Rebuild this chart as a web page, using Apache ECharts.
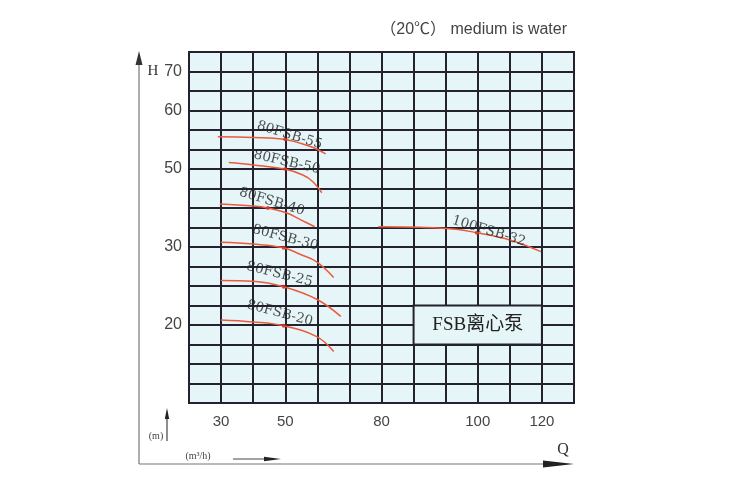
<!DOCTYPE html>
<html>
<head>
<meta charset="utf-8">
<script src="https://cdn.jsdelivr.net/npm/echarts@6/dist/echarts.min.js"></script>
<style>
html,body{margin:0;padding:0;background:#fff;}
#chart{width:750px;height:500px;}
</style>
</head>
<body>
<div id="chart"></div>
<script>
// ---- Axis tick definitions (printed chart uses a non-uniform scale) ----
const xTickPos = [1, 3, 6, 9, 11];
const xTickLabels = [30, 50, 80, 100, 120];
const yTickPos = [4, 8, 12, 15, 17];
const yTickLabels = [20, 30, 50, 60, 70];

// ---- Curve data: flow Q (m3/h) and head H (m) ----
const curveNames = ['80FSB-55', '80FSB-50', '80FSB-40', '80FSB-30', '80FSB-25', '80FSB-20', '100FSB-32'];
const q55 = [29, 40, 49.5, 57.6, 62.6];
const h55 = [55.5, 55.4, 55.1, 53.9, 52.6];
const q50 = [32.4, 40, 49.8, 55.5, 58.6, 61.4];
const h50 = [51.1, 50.7, 50, 48.45, 46.75, 43.9];
const q40 = [29.6, 40, 44.6, 50.5, 55, 59.2];
const h40 = [41, 40.5, 40, 38.7, 36.9, 35.2];
const q30 = [29.9, 40, 49.5, 55, 59.8, 65.1];
const h30 = [31.2, 30.75, 29.9, 29.0, 28.1, 26.1];
const q25 = [29.9, 40, 49.5, 59.8, 67.3];
const h25 = [25.7, 25.6, 24.9, 23.3, 21.1];
const q20 = [29.9, 40, 49.5, 59.8, 65.1];
const h20 = [20.65, 20.4, 19.9, 18.5, 16.6];
const q100 = [79, 88, 95.5, 99.8, 110, 119.7];
const h100 = [35.2, 35.05, 34.55, 33.65, 31.8, 29.4];
// rated (marked) points
const ratedQ = [50, 50, 44.6, 49.5, 49.5, 49.5, 99.8];
const ratedH = [55.1, 50, 40, 29.9, 24.9, 19.9, 33.65];
const boxLabel = 'FSB离心泵';
const titleText = '（20℃） medium is water';

// ---- piecewise-linear scale mapping value -> grid position ----
function scalePos(v, pos, vals) {
  const n = vals.length;
  let k = 0;
  while (k < n - 2 && v > vals[k + 1]) k++;
  return pos[k] + (v - vals[k]) * (pos[k + 1] - pos[k]) / (vals[k + 1] - vals[k]);
}
const sx = v => scalePos(v, xTickPos, xTickLabels);
const sy = v => scalePos(v, yTickPos, yTickLabels);

const curvesQ = [q55, q50, q40, q30, q25, q20, q100];
const curvesH = [h55, h50, h40, h30, h25, h20, h100];

// label styling per curve
const labelRot = [-17, -13, -17, -15, -14, -15, -17];
const labelOff = [[3, -5], [0, -7], [2, -7], [-1, -10], [-7, -11], [-7, -11], [11, -5]];

const lineColor = '#ea5a3d';
const gridLine = '#23222e';
const bg = '#e6f6f8';

const series = curvesQ.map((qs, i) => ({
  name: curveNames[i],
  type: 'line',
  smooth: 0.4,
  symbol: 'none',
  lineStyle: { color: lineColor, width: 1.5 },
  data: qs.map((q, j) => [sx(q), sy(curvesH[i][j])]),
  z: 3
}));

series.push({
  name: 'rated',
  type: 'scatter',
  symbolSize: 4,
  itemStyle: { color: '#e02a22' },
  z: 4,
  data: ratedQ.map((q, i) => ({
    value: [sx(q), sy(ratedH[i])],
    label: {
      show: true,
      formatter: curveNames[i],
      position: 'inside',
      rotate: labelRot[i],
      offset: labelOff[i],
      fontFamily: 'DejaVu Serif',
      fontSize: 13.5,
      color: '#222'
    }
  })),
  markArea: {
    silent: true,
    itemStyle: { color: bg, borderColor: gridLine, borderWidth: 2 },
    label: {
      show: true,
      position: 'inside',
      formatter: boxLabel,
      fontFamily: '"Liberation Serif", "Noto Sans CJK SC", serif',
      fontSize: 19,
      color: '#222'
    },
    data: [[{ coord: [7, 3] }, { coord: [11, 5] }]]
  }
});

const chart = echarts.init(document.getElementById('chart'), null, { renderer: 'canvas' });
chart.setOption({
  animation: false,
  backgroundColor: '#fff',
  title: {
    text: titleText,
    right: 178,
    top: 17,
    textStyle: { fontFamily: '"Liberation Sans", "Noto Sans CJK SC", sans-serif', fontSize: 16, fontWeight: 'normal', color: '#444' }
  },
  grid: {
    left: 189, top: 52, right: 176, bottom: 97,
    show: true, backgroundColor: bg, borderColor: gridLine, borderWidth: 2
  },
  xAxis: {
    type: 'value', min: 0, max: 12, interval: 1,
    axisLine: { show: true, lineStyle: { color: gridLine, width: 2 } },
    axisTick: { show: false },
    splitLine: { show: true, lineStyle: { color: gridLine, width: 2 } },
    axisLabel: {
      margin: 11,
      fontFamily: '"Liberation Sans", sans-serif', fontSize: 15, color: '#444',
      formatter: v => { const i = xTickPos.indexOf(v); return i >= 0 ? String(xTickLabels[i]) : ''; }
    }
  },
  yAxis: {
    type: 'value', min: 0, max: 18, interval: 1,
    axisLine: { show: true, lineStyle: { color: gridLine, width: 2 } },
    axisTick: { show: false },
    splitLine: { show: true, lineStyle: { color: gridLine, width: 2 } },
    axisLabel: {
      margin: 7,
      fontFamily: '"Liberation Sans", sans-serif', fontSize: 16, color: '#444',
      formatter: v => { const i = yTickPos.indexOf(v); return i >= 0 ? String(yTickLabels[i]) : ''; }
    }
  },
  series: series,
  graphic: [
    { type: 'line', shape: { x1: 139, y1: 60, x2: 139, y2: 464 }, style: { stroke: '#777', lineWidth: 1.2 } },
    { type: 'polygon', shape: { points: [[139, 51], [135.5, 65], [142.5, 65]] }, style: { fill: '#333' } },
    { type: 'line', shape: { x1: 139, y1: 464, x2: 550, y2: 464 }, style: { stroke: '#777', lineWidth: 1.2 } },
    { type: 'polygon', shape: { points: [[574, 464], [543, 460.5], [543, 467.5]] }, style: { fill: '#222' } },
    { type: 'text', style: { text: 'H', x: 153, y: 71, align: 'center', verticalAlign: 'middle', font: '15px "Liberation Serif", serif', fill: '#333' } },
    { type: 'text', style: { text: 'Q', x: 563, y: 450, align: 'center', verticalAlign: 'middle', font: '16px "Liberation Serif", serif', fill: '#333' } },
    { type: 'line', shape: { x1: 167, y1: 441, x2: 167, y2: 416 }, style: { stroke: '#444', lineWidth: 1.2 } },
    { type: 'polygon', shape: { points: [[167, 408], [164.8, 419], [169.2, 419]] }, style: { fill: '#222' } },
    { type: 'text', style: { text: '(m)', x: 156, y: 436, align: 'center', verticalAlign: 'middle', font: '10px "Liberation Serif", serif', fill: '#444' } },
    { type: 'text', style: { text: '(m³/h)', x: 198, y: 456, align: 'center', verticalAlign: 'middle', font: '10px "Liberation Serif", serif', fill: '#444' } },
    { type: 'line', shape: { x1: 233, y1: 459, x2: 268, y2: 459 }, style: { stroke: '#444', lineWidth: 1 } },
    { type: 'polygon', shape: { points: [[281, 459], [264, 456.8], [264, 461.2]] }, style: { fill: '#222' } }
  ]
});
</script>
</body>
</html>
